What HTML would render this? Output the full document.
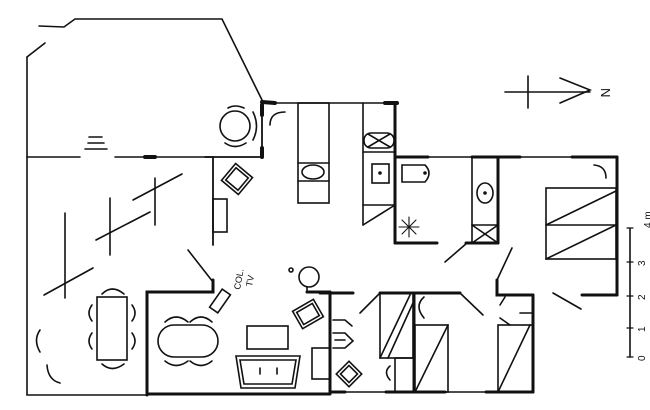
<!DOCTYPE html>
<html><head><style>html,body{margin:0;padding:0;background:#fff}svg{display:block}</style></head>
<body>
<svg width="650" height="410" viewBox="0 0 650 410" xmlns="http://www.w3.org/2000/svg" fill="none" stroke="#111" stroke-width="1.6" stroke-linecap="round" font-family="Liberation Sans, sans-serif">
<!-- terrace outline -->
<polyline points="39,26 64,27 75,19 222,19 263,102"/>
<line x1="27" y1="57" x2="45" y2="43"/>
<polyline points="27,57 27,395 147,395"/>
<line x1="27" y1="157" x2="80" y2="157"/>
<line x1="115" y1="157" x2="213" y2="157"/>
<line x1="145" y1="157" x2="155" y2="157" stroke-width="4"/>
<polyline points="205,157 262,157 262,102" stroke-width="1.8"/>
<line x1="262" y1="102" x2="275" y2="103" stroke-width="4"/>
<line x1="262" y1="105" x2="262" y2="115" stroke-width="4"/>
<line x1="262" y1="148" x2="262" y2="157" stroke-width="4"/>
<!-- steps -->
<line x1="89" y1="137" x2="102" y2="137"/><line x1="88" y1="143" x2="104" y2="143"/><line x1="85" y1="149" x2="107" y2="149"/>
<!-- round table -->
<circle cx="235" cy="126" r="15"/>
<path d="M253,112 Q260,126 253,140"/><path d="M225,143 Q235,150 246,143"/><path d="M228,108 Q235,104 244,108"/>
<path d="M270,125 Q270,112 285,112"/>
<!-- interior wall by entry -->
<line x1="213" y1="157" x2="213" y2="245" stroke-width="1.8"/>
<rect x="226" y="168" width="22" height="22" transform="rotate(40 237 179)"/>
<rect x="229" y="171" width="16" height="16" transform="rotate(40 237 179)"/>
<rect x="213" y="199" width="14" height="33"/>
<!-- pergola lines -->
<line x1="44" y1="295" x2="93" y2="268"/><line x1="65" y1="213" x2="65" y2="298"/>
<line x1="96" y1="240" x2="150" y2="212"/><line x1="110" y1="198" x2="110" y2="255"/>
<line x1="133" y1="200" x2="182" y2="174"/><line x1="155" y1="178" x2="155" y2="225"/>
<!-- living room -->
<line x1="188" y1="250" x2="213" y2="282"/>
<polyline points="213,280 213,292 147,292 147,395" stroke-width="3"/>
<line x1="147" y1="394" x2="330" y2="394" stroke-width="3"/>
<!-- dining -->
<rect x="97" y="297" width="30" height="63"/>
<path d="M92,305 Q86,313 92,321"/><path d="M92,333 Q86,341 92,349"/>
<path d="M132,305 Q138,313 132,321"/><path d="M132,333 Q138,341 132,349"/>
<path d="M102,294 Q112,284 124,294"/><path d="M102,364 Q112,373 124,364"/>
<path d="M40,330 Q33,340 40,352"/><path d="M47,365 Q48,380 60,383"/>
<!-- oval table -->
<rect x="158" y="325" width="60" height="32" rx="16"/>
<path d="M165,322 Q176,312 188,322"/><path d="M190,322 Q201,312 212,322"/>
<path d="M165,361 Q176,370 188,361"/><path d="M190,361 Q201,370 212,361"/>
<!-- TV -->
<rect x="215" y="290" width="10" height="22" transform="rotate(35 220 301)"/>
<text x="240" y="290" font-size="9" fill="#111" stroke="none" transform="rotate(-80 240 290)">COL.</text>
<text x="252" y="287" font-size="9" fill="#111" stroke="none" transform="rotate(-80 252 287)">TV</text>
<circle cx="309" cy="277" r="10"/><line x1="307" y1="287" x2="307" y2="292"/>
<circle cx="291" cy="270" r="2"/>
<line x1="307" y1="292" x2="330" y2="292" stroke-width="3"/>
<rect x="296" y="304" width="24" height="20" transform="rotate(-30 308 314)"/>
<rect x="299" y="307" width="18" height="14" transform="rotate(-30 308 314)"/>
<rect x="247" y="326" width="41" height="23"/>
<polygon points="236,356 300,356 295,388 241,388"/>
<polygon points="240,360 296,360 292,384 244,384"/>
<line x1="260" y1="368" x2="260" y2="374"/><line x1="277" y1="368" x2="277" y2="374"/>
<rect x="312" y="348" width="18" height="31"/>
<!-- kitchen -->
<line x1="275" y1="103" x2="395" y2="103"/>
<line x1="385" y1="103" x2="397" y2="103" stroke-width="4"/>
<rect x="298" y="103" width="31" height="100"/>
<line x1="298" y1="163" x2="329" y2="163"/><line x1="298" y1="181" x2="329" y2="181"/>
<ellipse cx="313" cy="172" rx="11" ry="7"/>
<line x1="363" y1="103" x2="363" y2="225"/>
<line x1="395" y1="103" x2="395" y2="157" stroke-width="3"/>
<rect x="364" y="133" width="30" height="15" rx="7"/>
<line x1="368" y1="134" x2="390" y2="147"/><line x1="368" y1="147" x2="390" y2="134"/>
<line x1="363" y1="152" x2="395" y2="152"/>
<rect x="372" y="164" width="17" height="19"/><circle cx="380" cy="173" r="1" fill="#111"/>
<line x1="363" y1="205" x2="395" y2="205"/><line x1="363" y1="225" x2="395" y2="205"/>
<!-- bathroom -->
<line x1="395" y1="157" x2="617" y2="157"/>
<line x1="395" y1="157" x2="428" y2="157" stroke-width="3"/>
<line x1="472" y1="157" x2="520" y2="157" stroke-width="3"/>
<line x1="572" y1="157" x2="617" y2="157" stroke-width="3"/>
<line x1="395" y1="157" x2="395" y2="243" stroke-width="3"/>
<line x1="395" y1="243" x2="437" y2="243" stroke-width="3"/>
<path d="M402,165 L425,165 Q433,173 425,182 L402,182 Z"/><circle cx="425" cy="173" r="1" fill="#111"/>
<g stroke-width="1.1"><line x1="409" y1="217" x2="409" y2="237"/><line x1="399" y1="227" x2="419" y2="227"/><line x1="402" y1="220" x2="416" y2="234"/><line x1="402" y1="234" x2="416" y2="220"/></g>
<rect x="472" y="157" width="26" height="86"/>
<line x1="498" y1="157" x2="498" y2="243" stroke-width="3"/>
<line x1="466" y1="243" x2="498" y2="243" stroke-width="3"/>
<ellipse cx="485" cy="193" rx="8" ry="10"/><circle cx="485" cy="193" r="1" fill="#111"/>
<line x1="472" y1="225" x2="498" y2="225"/><line x1="472" y1="225" x2="498" y2="243"/><line x1="472" y1="243" x2="498" y2="225"/>
<line x1="445" y1="262" x2="467" y2="243"/>
<!-- bedroom -->
<line x1="617" y1="157" x2="617" y2="295" stroke-width="3"/>
<line x1="582" y1="295" x2="617" y2="295" stroke-width="3"/>
<path d="M594,165 Q606,166 606,178"/>
<rect x="546" y="188" width="70" height="71"/><line x1="546" y1="225" x2="616" y2="225"/>
<line x1="546" y1="225" x2="616" y2="191"/><line x1="546" y1="259" x2="616" y2="225"/>
<line x1="497" y1="280" x2="512" y2="248"/>
<polyline points="497,280 497,295 533,295" stroke-width="3"/>
<line x1="553" y1="293" x2="581" y2="309"/>
<!-- lower rooms -->
<line x1="320" y1="293" x2="353" y2="293" stroke-width="3"/>
<line x1="330" y1="292" x2="330" y2="393" stroke-width="3"/>
<line x1="380" y1="293" x2="460" y2="293" stroke-width="3"/>
<line x1="360" y1="313" x2="380" y2="293"/>
<line x1="460" y1="293" x2="483" y2="315"/>
<line x1="330" y1="392" x2="533" y2="392"/>
<line x1="330" y1="392" x2="345" y2="392" stroke-width="3"/>
<line x1="386" y1="392" x2="445" y2="392" stroke-width="3"/>
<line x1="486" y1="392" x2="533" y2="392" stroke-width="3"/>
<line x1="414" y1="293" x2="414" y2="392" stroke-width="3"/>
<line x1="533" y1="295" x2="533" y2="392" stroke-width="3"/>
<!-- bath-like item in left lower room -->
<path d="M333,320 L345,320 L352,326"/><path d="M333,333 L345,333 L353,341 L345,348 L333,348"/>
<line x1="335" y1="340" x2="345" y2="340"/>
<rect x="340" y="365" width="18" height="18" transform="rotate(45 349 374)"/>
<rect x="343" y="368" width="12" height="12" transform="rotate(45 349 374)"/>
<!-- wardrobe -->
<rect x="380" y="293" width="33" height="65"/>
<line x1="380" y1="358" x2="410" y2="295"/><line x1="388" y1="358" x2="413" y2="303"/>
<rect x="395" y="358" width="19" height="34"/>
<path d="M390,366 Q383,372 390,380"/>
<path d="M424,297 Q414,306 424,318"/>
<rect x="415" y="325" width="33" height="67"/><line x1="415" y1="392" x2="448" y2="325"/>
<!-- right small room -->
<line x1="500" y1="305" x2="505" y2="297"/><line x1="500" y1="318" x2="510" y2="325"/>
<line x1="520" y1="313" x2="533" y2="313"/>
<rect x="498" y="325" width="35" height="67"/><line x1="498" y1="392" x2="530" y2="325"/>
<!-- north arrow -->
<line x1="505" y1="92" x2="590" y2="92"/><line x1="528" y1="76" x2="528" y2="108"/>
<polyline points="560,78 590,90 560,103"/>
<text x="600" y="99" font-size="13" fill="#111" stroke="none" transform="rotate(90 606 94)">N</text>
<!-- scale -->
<line x1="630" y1="228" x2="630" y2="357"/>
<g stroke-width="1.2"><line x1="627" y1="228" x2="633" y2="228"/><line x1="627" y1="262" x2="633" y2="262"/><line x1="627" y1="296" x2="633" y2="296"/><line x1="627" y1="328" x2="633" y2="328"/><line x1="627" y1="357" x2="633" y2="357"/></g>
<g font-size="10" fill="#111" stroke="none">
<text x="638" y="360" transform="rotate(-90 642 357)">0</text>
<text x="638" y="331" transform="rotate(-90 642 328)">1</text>
<text x="638" y="299" transform="rotate(-90 642 296)">2</text>
<text x="638" y="265" transform="rotate(-90 642 262)">3</text>
<text x="636" y="231" transform="rotate(-90 642 222)">4 m</text>
</g>
</svg>
</body></html>
